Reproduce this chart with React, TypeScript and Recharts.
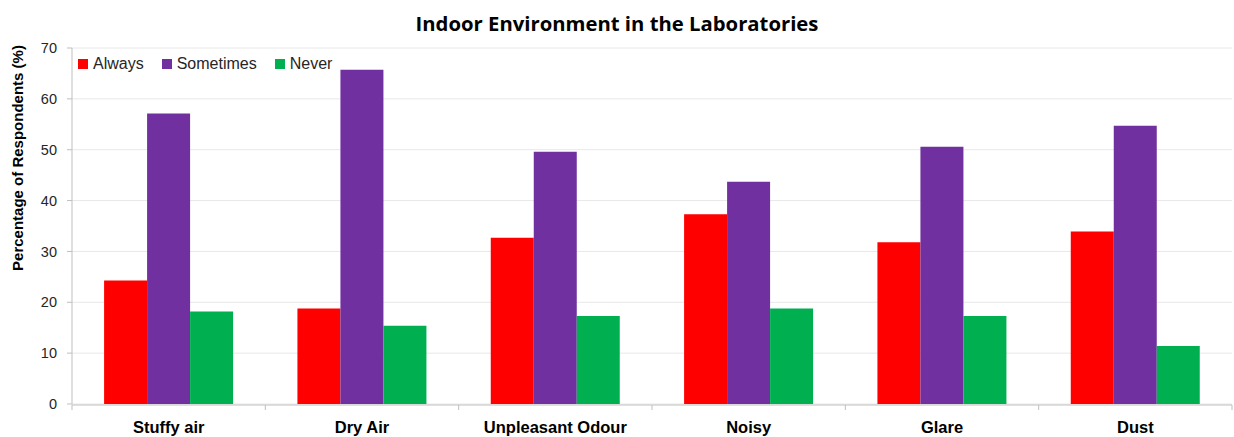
import { Bar, BarChart, CartesianGrid, XAxis, YAxis } from "recharts";

const categories = ["Stuffy air", "Dry Air", "Unpleasant Odour", "Noisy", "Glare", "Dust"];
const always = [24.3, 18.8, 32.7, 37.3, 31.8, 33.9];
const sometimes = [57.1, 65.7, 49.6, 43.7, 50.6, 54.7];
const never = [18.2, 15.4, 17.3, 18.8, 17.3, 11.4];
const yTicks = [0, 10, 20, 30, 40, 50, 60, 70];
const edgeTicks = [0, 1, 2, 3, 4, 5, 6];

const series = [
  { key: "always", name: "Always", color: "#ff0000" },
  { key: "sometimes", name: "Sometimes", color: "#7030a0" },
  { key: "never", name: "Never", color: "#00b050" },
];

const data = categories.map((name, i) => ({
  name,
  pos: i + 0.5,
  always: always[i],
  sometimes: sometimes[i],
  never: never[i],
}));

const axisGray = "#bfbfbf";
const font = "'Liberation Sans', Arial, sans-serif";

function CategoryTick({ x, y, payload }: any) {
  return (
    <text
      x={x}
      y={y + 21}
      textAnchor="middle"
      fontFamily={font}
      fontWeight="bold"
      fontSize={16.5}
      fill="#000"
    >
      {payload.value}
    </text>
  );
}

function LegendRow() {
  return (
    <div
      style={{
        position: "absolute",
        top: 55,
        left: 78,
        display: "flex",
        alignItems: "center",
        fontFamily: font,
        fontSize: 16,
        lineHeight: "18px",
        color: "#262626",
        zIndex: 2,
      }}
    >
      {series.map((s) => (
        <div key={s.key} style={{ display: "flex", alignItems: "center", marginRight: 18 }}>
          <span style={{ width: 10, height: 10, background: s.color, marginRight: 5 }} />
          <span>{s.name}</span>
        </div>
      ))}
    </div>
  );
}

export default function App() {
  return (
    <div style={{ position: "absolute", left: 0, top: 0, width: 1234, height: 437, background: "#fff" }}>
      <div
        style={{
          position: "absolute",
          top: 9,
          left: 0,
          width: 1234,
          textAlign: "center",
          fontFamily: "'Open Sans', sans-serif",
          fontWeight: 700,
          fontSize: 20.3,
          lineHeight: "28px",
          color: "#000",
        }}
      >
        Indoor Environment in the Laboratories
      </div>
      <LegendRow />
      <BarChart
        width={1234}
        height={437}
        data={data}
        margin={{ top: 48, right: 2, bottom: 31, left: 0 }}
        barCategoryGap="16.6%"
        barGap={0}
      >
        <CartesianGrid vertical={false} stroke="#e8e8e8" xAxisId="cat" />
        <XAxis
          xAxisId="edges"
          dataKey="pos"
          type="number"
          domain={[0, 6]}
          ticks={edgeTicks}
          allowDataOverflow
          height={1}
          axisLine={{ stroke: axisGray }}
          tickLine={{ stroke: axisGray }}
          tickSize={5}
          tick={() => <g />}
        />
        <XAxis
          xAxisId="cat"
          dataKey="name"
          height={1}
          axisLine={false}
          tickLine={false}
          tick={<CategoryTick />}
          interval={0}
        />
        <YAxis
          width={72}
          domain={[0, 70]}
          ticks={yTicks}
          axisLine={{ stroke: axisGray }}
          tickLine={{ stroke: axisGray }}
          tickSize={5}
          tickMargin={10}
          tick={{ fontFamily: font, fontSize: 14.5, fill: "#262626" }}
          label={{
            value: "Percentage of Respondents (%)",
            angle: -90,
            position: "insideLeft",
            offset: 18,
            dy: -68,
            style: { textAnchor: "middle", fontFamily: font, fontWeight: "bold", fontSize: 15, fill: "#000" },
          }}
        />
        {series.map((s) => (
          <Bar key={s.key} xAxisId="cat" dataKey={s.key} name={s.name} fill={s.color} isAnimationActive={false} />
        ))}
      </BarChart>
    </div>
  );
}
